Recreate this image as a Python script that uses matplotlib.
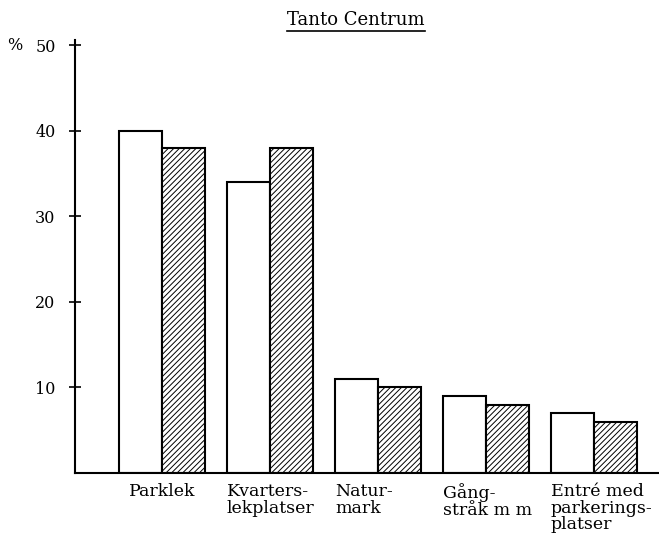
import matplotlib
matplotlib.use("Agg")
import matplotlib.pyplot as plt
from matplotlib.lines import Line2D
import numpy as np

categories = ["Parklek", "Kvarters-\nlekplatser", "Natur-\nmark", "Gång-\nstråk m m", "Entré med\nparkerings-\nplatser"]
white_vals = [40, 34, 11, 9, 7]
hatched_vals = [38, 38, 10, 8, 6]
yticks = [10, 20, 30, 40, 50]
title = "Tanto Centrum"

plt.rcParams['font.family'] = ['DejaVu Serif']
plt.rcParams['hatch.linewidth'] = 0.7

fig = plt.figure(figsize=(6.59, 5.33), dpi=100)
ax = fig.add_axes([75/659, 1-473/533, 1-75/659, (473-40)/533])

x = np.arange(len(categories))
w = 0.4
ax.bar(x - w/2, white_vals, width=w, color='white', edgecolor='black', linewidth=1.5)
ax.bar(x + w/2, hatched_vals, width=w, color='white', edgecolor='black', linewidth=1.5, hatch='//////')

ax.set_xlim(-0.806, 4.6)
ax.set_ylim(0, 50.6)
ax.set_yticks(yticks)
ax.set_yticklabels([str(v) for v in yticks], fontsize=11.5)
ax.tick_params(axis='y', direction='inout', length=8, width=1.2, pad=10)
ax.set_xticks([])
for s in ['top', 'right']:
    ax.spines[s].set_visible(False)
ax.spines['left'].set_linewidth(1.5)
ax.spines['bottom'].set_linewidth(1.5)

for i, lab in enumerate(categories):
    xx = x[i] - w if i > 0 else x[i]
    ha = 'left' if i > 0 else 'center'
    ax.text(xx, -1.2, lab, ha=ha, va='top', fontsize=12.5, linespacing=0.95,
            multialignment='left')

ax.text(-0.09, 50, '%', transform=ax.get_yaxis_transform(), ha='right', va='center', fontsize=11.5)

t = fig.text(356/659, 1-20/533, title, ha='center', va='center', fontsize=13)
fig.canvas.draw()
bb = t.get_window_extent().transformed(fig.transFigure.inverted())
fig.add_artist(Line2D([bb.x0, bb.x1], [bb.y0 - 0.004, bb.y0 - 0.004], color='black', linewidth=1.2,
                      transform=fig.transFigure))

fig.savefig("out.png", dpi=100)
